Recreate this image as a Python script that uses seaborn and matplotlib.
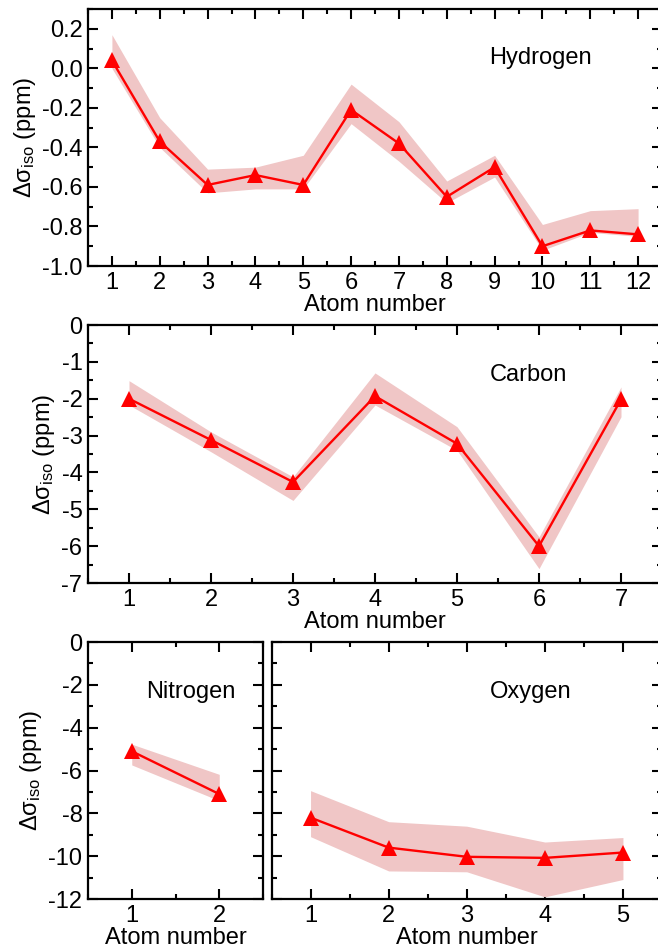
import numpy as np
import pandas as pd
import matplotlib
matplotlib.use("Agg")
import matplotlib.pyplot as plt
from matplotlib.ticker import MultipleLocator, FormatStrFormatter
import seaborn as sns

# Isotropic shielding differences per atom, with lower/upper spread
h_atoms = [1, 2, 3, 4, 5, 6, 7, 8, 9, 10, 11, 12]
h_mean = [0.04, -0.37, -0.59, -0.54, -0.59, -0.21, -0.38, -0.65, -0.50, -0.90, -0.82, -0.84]
h_low = [0.00, -0.40, -0.63, -0.61, -0.61, -0.28, -0.47, -0.68, -0.55, -0.92, -0.83, -0.85]
h_high = [0.17, -0.25, -0.51, -0.50, -0.44, -0.08, -0.27, -0.57, -0.44, -0.79, -0.72, -0.71]

c_atoms = [1, 2, 3, 4, 5, 6, 7]
c_mean = [-2.0, -3.12, -4.26, -1.93, -3.22, -6.0, -2.02]
c_low = [-2.17, -3.44, -4.76, -2.17, -3.40, -6.61, -2.49]
c_high = [-1.51, -2.90, -4.12, -1.30, -2.76, -5.75, -1.68]

n_atoms = [1, 2]
n_mean = [-5.1, -7.1]
n_low = [-5.74, -7.41]
n_high = [-4.77, -6.18]

o_atoms = [1, 2, 3, 4, 5]
o_mean = [-8.2, -9.6, -10.03, -10.08, -9.83]
o_low = [-9.09, -10.69, -10.73, -11.90, -11.09]
o_high = [-6.94, -8.39, -8.60, -9.34, -9.13]

sns.set_style("ticks")
plt.rcParams["font.family"] = ["Liberation Sans", "DejaVu Sans"]
plt.rcParams["mathtext.default"] = "regular"
plt.rcParams["axes.unicode_minus"] = False
for key in ("text.color", "axes.labelcolor", "xtick.color", "ytick.color", "axes.edgecolor"):
    plt.rcParams[key] = "black"

W, H = 658, 947
fig = plt.figure(figsize=(W / 100, H / 100), dpi=100)


def px_axes(left, right, top, bottom):
    return fig.add_axes([left / W, 1 - bottom / H, (right - left) / W, (bottom - top) / H])


ax_h = px_axes(88, 662, 9, 266)
ax_c = px_axes(88, 662, 325, 583)
ax_n = px_axes(88, 263, 642, 899)
ax_o = px_axes(271.5, 662, 642, 899)

LINE = "#ff0000"
BAND = "#f0c6c6"
FS = 17


def draw(ax, atoms, mean, low, high, name, ylim, ymaj, ymin, xlim, label_xy, ylabel=True):
    ax.fill_between(atoms, low, high, color=BAND, linewidth=0, zorder=1)
    df = pd.DataFrame({"atom": atoms, "shift": mean})
    sns.lineplot(data=df, x="atom", y="shift", ax=ax, color=LINE, linewidth=1.7,
                 marker="^", markersize=11, markeredgewidth=0, zorder=3)
    ax.set_xlim(*xlim)
    ax.set_ylim(*ylim)
    ax.xaxis.set_major_locator(MultipleLocator(1))
    ax.xaxis.set_minor_locator(MultipleLocator(0.5))
    ax.yaxis.set_major_locator(MultipleLocator(ymaj))
    ax.yaxis.set_minor_locator(MultipleLocator(ymin))
    ax.tick_params(which="both", direction="in", top=True, right=True, width=1.5,
                   color="black", labelsize=FS, pad=4)
    ax.tick_params(which="major", length=7)
    ax.tick_params(which="minor", length=3.5)
    for s in ax.spines.values():
        s.set_linewidth(1.6)
        s.set_color("black")
    ax.set_xlabel("Atom number", fontsize=FS, labelpad=0)
    if ylabel:
        ax.set_ylabel("Δσ$_{iso}$ (ppm)", fontsize=FS, labelpad=3)
    else:
        ax.set_ylabel("")
        ax.tick_params(labelleft=False)
    ax.text(label_xy[0], label_xy[1], name, transform=ax.transAxes, fontsize=FS,
            ha="center", va="center")


draw(ax_h, h_atoms, h_mean, h_low, h_high, "Hydrogen", (-1.0, 0.3), 0.2, 0.1,
     (0.5, 12.5), (0.789, 0.809))
ax_h.yaxis.set_major_formatter(FormatStrFormatter("%.1f"))
draw(ax_c, c_atoms, c_mean, c_low, c_high, "Carbon", (-7, 0), 1, 0.5,
     (0.5, 7.5), (0.767, 0.806))
draw(ax_n, n_atoms, n_mean, n_low, n_high, "Nitrogen", (-12, 0), 2, 1,
     (0.5, 2.5), (0.59, 0.807))
draw(ax_o, o_atoms, o_mean, o_low, o_high, "Oxygen", (-12, 0), 2, 1,
     (0.5, 5.5), (0.665, 0.807), ylabel=False)

fig.savefig("out.png", dpi=100)
